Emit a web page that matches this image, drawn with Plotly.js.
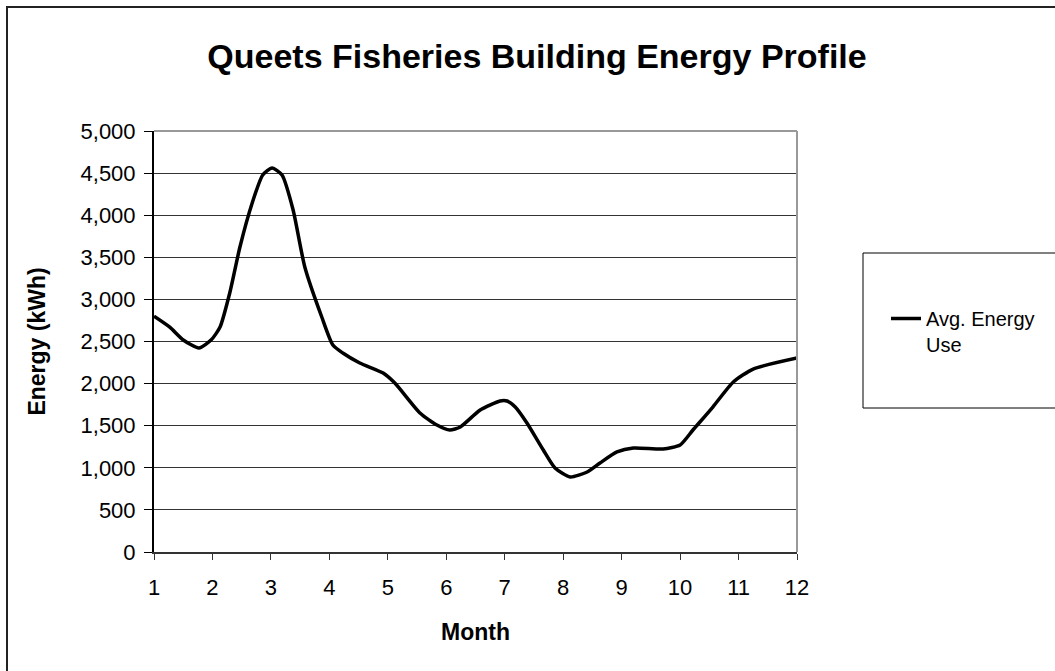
<!DOCTYPE html>
<html>
<head>
<meta charset="utf-8">
<script src="https://cdn.plot.ly/plotly-3.0.1.min.js"></script>
<style>html,body{margin:0;padding:0;background:#fff;}#chart{width:1055px;height:671px;}</style>
</head>
<body>
<div id="chart"></div>
<script>
// Month position (fractional) and average energy use (kWh)
var months = [1.00, 1.27, 1.50, 1.77, 1.98, 2.13, 2.30, 2.47, 2.68, 2.86, 3.02, 3.19, 3.38, 3.58, 3.87,
              4.06, 4.23, 4.52, 4.92, 5.12, 5.55, 5.84, 6.06, 6.24, 6.58, 6.92, 7.04, 7.18, 7.38, 7.66,
              7.86, 8.12, 8.41, 8.63, 8.92, 9.20, 9.71, 10.00, 10.22, 10.56, 10.91, 11.25, 12.00];
var energy = [2800, 2670, 2518, 2423, 2520, 2672, 3088, 3622, 4145, 4477, 4560, 4477, 4062, 3385, 2791,
              2458, 2363, 2245, 2126, 2007, 1651, 1508, 1449, 1485, 1686, 1793, 1793, 1722, 1532, 1211,
              998, 891, 950, 1057, 1188, 1235, 1223, 1271, 1449, 1722, 2019, 2173, 2304];
var xTicks = [1,2,3,4,5,6,7,8,9,10,11,12];
var yTicks = [0,500,1000,1500,2000,2500,3000,3500,4000,4500,5000];
var seriesName = 'Avg. Energy<br>Use';
var chartTitle = 'Queets Fisheries Building Energy Profile';

var W = 1055, H = 671;
var L = 154, R = 797, T = 131, B = 552;
function px(x){ return (x - L) / (R - L); }
function py(y){ return (B - y) / (B - T); }

var font = 'Liberation Sans, Arial, sans-serif';

var trace = {
  x: months, y: energy, name: seriesName, type: 'scatter', mode: 'lines',
  line: {color: '#000', width: 3.5, shape: 'spline', smoothing: 0.6}
};

var layout = {
  width: W, height: H,
  margin: {l: L, r: W - R, t: T, b: H - B, pad: 0},
  paper_bgcolor: '#fff', plot_bgcolor: '#fff',
  font: {family: font, color: '#000', size: 20},
  title: {text: '<b>' + chartTitle + '</b>', font: {family: font, size: 34, color: '#000'},
          x: 537 / W, xref: 'container', xanchor: 'center', y: 1 - 56 / H, yref: 'container', yanchor: 'middle'},
  xaxis: {
    range: [1, 12], tickvals: xTicks, ticktext: xTicks.map(String),
    showgrid: false, zeroline: false, showline: true, linecolor: '#333', linewidth: 2,
    ticks: 'outside', ticklen: 6, tickcolor: '#333', tickwidth: 1, ticklabelstandoff: 9,
    tickfont: {family: font, size: 22, color: '#000'},
    title: {text: '<b>Month</b>', font: {family: font, size: 23, color: '#000'}, standoff: 24}
  },
  yaxis: {
    range: [0, 5000], tickvals: yTicks, ticktext: yTicks.map(function(v){ return v.toLocaleString('en-US'); }),
    showgrid: true, gridcolor: '#333', gridwidth: 1, zeroline: false,
    showline: true, linecolor: '#000', linewidth: 2,
    ticks: 'outside', ticklen: 8, tickcolor: '#000', tickwidth: 1, ticklabelstandoff: 4,
    tickfont: {family: font, size: 22, color: '#000'},
    title: {text: '<b>Energy (kWh)</b>', font: {family: font, size: 23, color: '#000'}, standoff: 28}
  },
  showlegend: true,
  legend: {x: px(886), y: py(299), xanchor: 'left', yanchor: 'top', valign: 'top',
           bgcolor: 'rgba(0,0,0,0)', borderwidth: 0, font: {family: font, size: 20, color: '#000'}},
  shapes: [
    {type: 'line', xref: 'paper', yref: 'paper', x0: 0, x1: 1, y0: 1, y1: 1, line: {color: '#999', width: 2}},
    {type: 'line', xref: 'paper', yref: 'paper', x0: 1, x1: 1, y0: 0, y1: 1, line: {color: '#999', width: 2}},
    {type: 'rect', xref: 'paper', yref: 'paper', x0: px(863), x1: px(1070), y0: py(408), y1: py(253),
     line: {color: '#000', width: 1}, fillcolor: 'rgba(0,0,0,0)'},
    {type: 'rect', xref: 'paper', yref: 'paper', x0: px(7), x1: px(1075), y0: py(690), y1: py(7),
     line: {color: '#222', width: 2}, fillcolor: 'rgba(0,0,0,0)'}
  ]
};

Plotly.newPlot('chart', [trace], layout, {staticPlot: true, displayModeBar: false});
</script>
</body>
</html>
